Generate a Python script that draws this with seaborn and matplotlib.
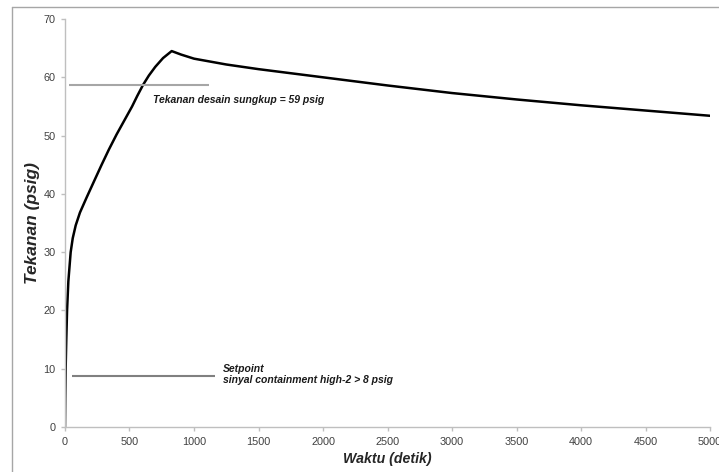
import seaborn as sns
import matplotlib.pyplot as plt
from matplotlib.lines import Line2D
import pandas as pd

# Pressure transient in containment
waktu = [0, 2, 5, 10, 16, 26, 44, 60, 83, 116, 168, 230, 284, 340, 400, 460,
         520, 560, 605, 650, 700, 760, 827, 900, 1000, 1250, 1500, 1750, 2000,
         2500, 3000, 3500, 4000, 4500, 5000]
tekanan = [0, 5, 10, 15, 20, 25, 30, 32.4, 34.6, 36.8, 39.4, 42.4, 45.0, 47.6,
           50.2, 52.6, 55.0, 56.8, 58.7, 60.3, 61.8, 63.3, 64.5, 63.9, 63.2,
           62.2, 61.4, 60.7, 60.0, 58.6, 57.3, 56.2, 55.2, 54.3, 53.4]

desain_x = [30, 1120]
desain_y = 58.7
setpoint_x = [55, 1165]
setpoint_y = 8.7

df = pd.DataFrame({"waktu": waktu, "tekanan": tekanan})

sns.set_style("white")
plt.rcParams["font.family"] = ["Liberation Sans", "DejaVu Sans"]

fig = plt.figure(figsize=(7.19, 4.72), dpi=100)
ax = fig.add_axes([0.0904, 0.0953, 0.8971, 0.8644])

sns.lineplot(data=df, x="waktu", y="tekanan", color="black", linewidth=1.8,
             ax=ax)
ax.hlines(desain_y, desain_x[0], desain_x[1], color="#a6a6a6", linewidth=1.5)
ax.hlines(setpoint_y, setpoint_x[0], setpoint_x[1], color="#808080",
          linewidth=1.5)

ax.text(680, 56.1, "Tekanan desain sungkup = 59 psig", fontsize=7.5,
        fontweight="bold", style="italic", color="#1a1a1a", va="center")
ax.text(1225, 9.0, "Setpoint\nsinyal containment high-2 > 8 psig",
        fontsize=7.5, fontweight="bold", style="italic", color="#1a1a1a",
        va="center", linespacing=1.2)

ax.set_xlim(0, 5000)
ax.set_ylim(0, 70)
ax.set_xticks(range(0, 5001, 500))
ax.set_yticks(range(0, 71, 10))
ax.tick_params(axis="both", labelsize=7.8, labelcolor="#404040",
               color="#bfbfbf", direction="out", length=3, width=1,
               bottom=True, left=True, pad=4)

for side in ["top", "right"]:
    ax.spines[side].set_visible(False)
for side in ["left", "bottom"]:
    ax.spines[side].set_color("#bfbfbf")
    ax.spines[side].set_linewidth(1)

ax.set_xlabel("Waktu (detik)", fontsize=10.2, fontweight="bold",
              style="italic", labelpad=4)
ax.set_ylabel("Tekanan (psig)", fontsize=12.5, fontweight="bold",
              style="italic", labelpad=2)

# chart-area frame (left and top edges visible in the reference)
x0, y1 = 12 / 719, 1 - 7 / 472
fig.add_artist(Line2D([x0, x0], [0, y1], transform=fig.transFigure,
                      color="#a6a6a6", linewidth=1))
fig.add_artist(Line2D([x0, 1], [y1, y1], transform=fig.transFigure,
                      color="#a6a6a6", linewidth=1))

fig.savefig("out.png", dpi=100)
plt.close()
